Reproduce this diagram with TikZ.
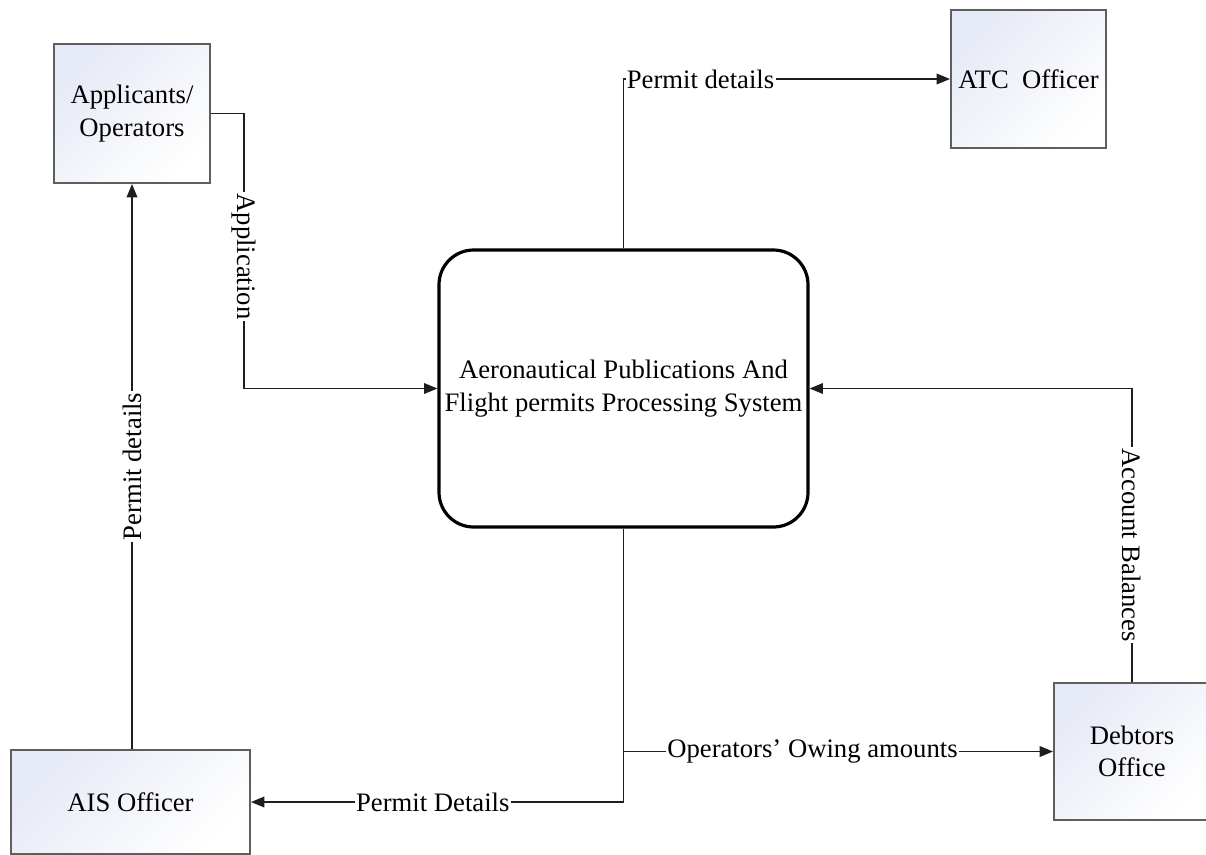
\documentclass[tikz,border=0pt]{standalone}
\usepackage{fontspec}
\setmainfont{Liberation Serif}
\usetikzlibrary{arrows.meta,calc}

\definecolor{boxedge}{HTML}{5E5E5E}
\definecolor{boxtint}{HTML}{E6EAF6}
\definecolor{wire}{HTML}{1E1E1E}

\tikzset{
  entity/.style={draw=boxedge, line width=1.5pt, top color=boxtint, bottom color=white,
    shading angle=45, inner sep=0pt, align=center, font=\fontsize{20}{24.5}\selectfont},
  process/.style={draw=black, line width=2.4pt, fill=white, rounded corners=26pt,
    inner sep=0pt, align=center, font=\fontsize{20}{24.5}\selectfont},
  flow/.style={draw=wire, line width=1pt, -{Triangle[length=10pt,width=8pt]}},
  lbl/.style={fill=white, inner sep=1pt, font=\fontsize{20}{23}\selectfont}
}

\begin{document}
\begin{tikzpicture}[x=0.75pt, y=-0.75pt]
  \useasboundingbox (0,0) rectangle (1206,854);

  % external entities
  \node[entity, minimum width=117pt, minimum height=104.25pt] (app) at (132,113.5) {Applicants/\\Operators};
  \node[entity, minimum width=116.25pt, minimum height=103.5pt] (atc) at (1028.5,79) {ATC\ \ Officer};
  \node[entity, minimum width=117pt, minimum height=102.75pt] (deb) at (1132,751.5) {Debtors\\Office};
  \node[entity, minimum width=179.25pt, minimum height=78pt] (ais) at (130.5,802) {AIS Officer};

  % central process
  \node[process, minimum width=276.75pt, minimum height=207.75pt] (sys) at (623.5,388.5)
    {Aeronautical Publications And\\Flight permits Processing System};

  % application from applicants into the system
  \coordinate (a1) at ($(app.east)+(33,0)$);
  \draw[flow] (app.east) -- (a1) -- node[lbl, rotate=-90, pos=0.52] {Application} (a1 |- sys.west) -- (sys.west);

  % permit details from AIS back to applicants
  \draw[flow] (app.south |- ais.north) -- node[lbl, rotate=90, midway] {Permit details} (app.south);

  % permit details to ATC
  \coordinate (t1) at (sys.north |- atc.west);
  \draw[flow] (sys.north) -- (t1) -- node[lbl, anchor=west, pos=0, xshift=1pt] {Permit details} (atc.west);

  % account balances from debtors
  \coordinate (d1) at (deb.north |- sys.east);
  \draw[flow] (deb.north) -- node[lbl, rotate=-90, pos=0.466] {Account Balances} (d1) -- (sys.east);

  % permit details to AIS
  \coordinate (s1) at (sys.south |- ais.east);
  \draw[flow] (sys.south) -- (s1) -- node[lbl, pos=0.512] {Permit Details} (ais.east);

  % owing amounts to debtors
  \coordinate (s2) at (sys.south |- deb.west);
  \draw[flow] (s2) -- node[lbl, pos=0.44] {Operators’ Owing amounts} (deb.west);
\end{tikzpicture}
\end{document}
